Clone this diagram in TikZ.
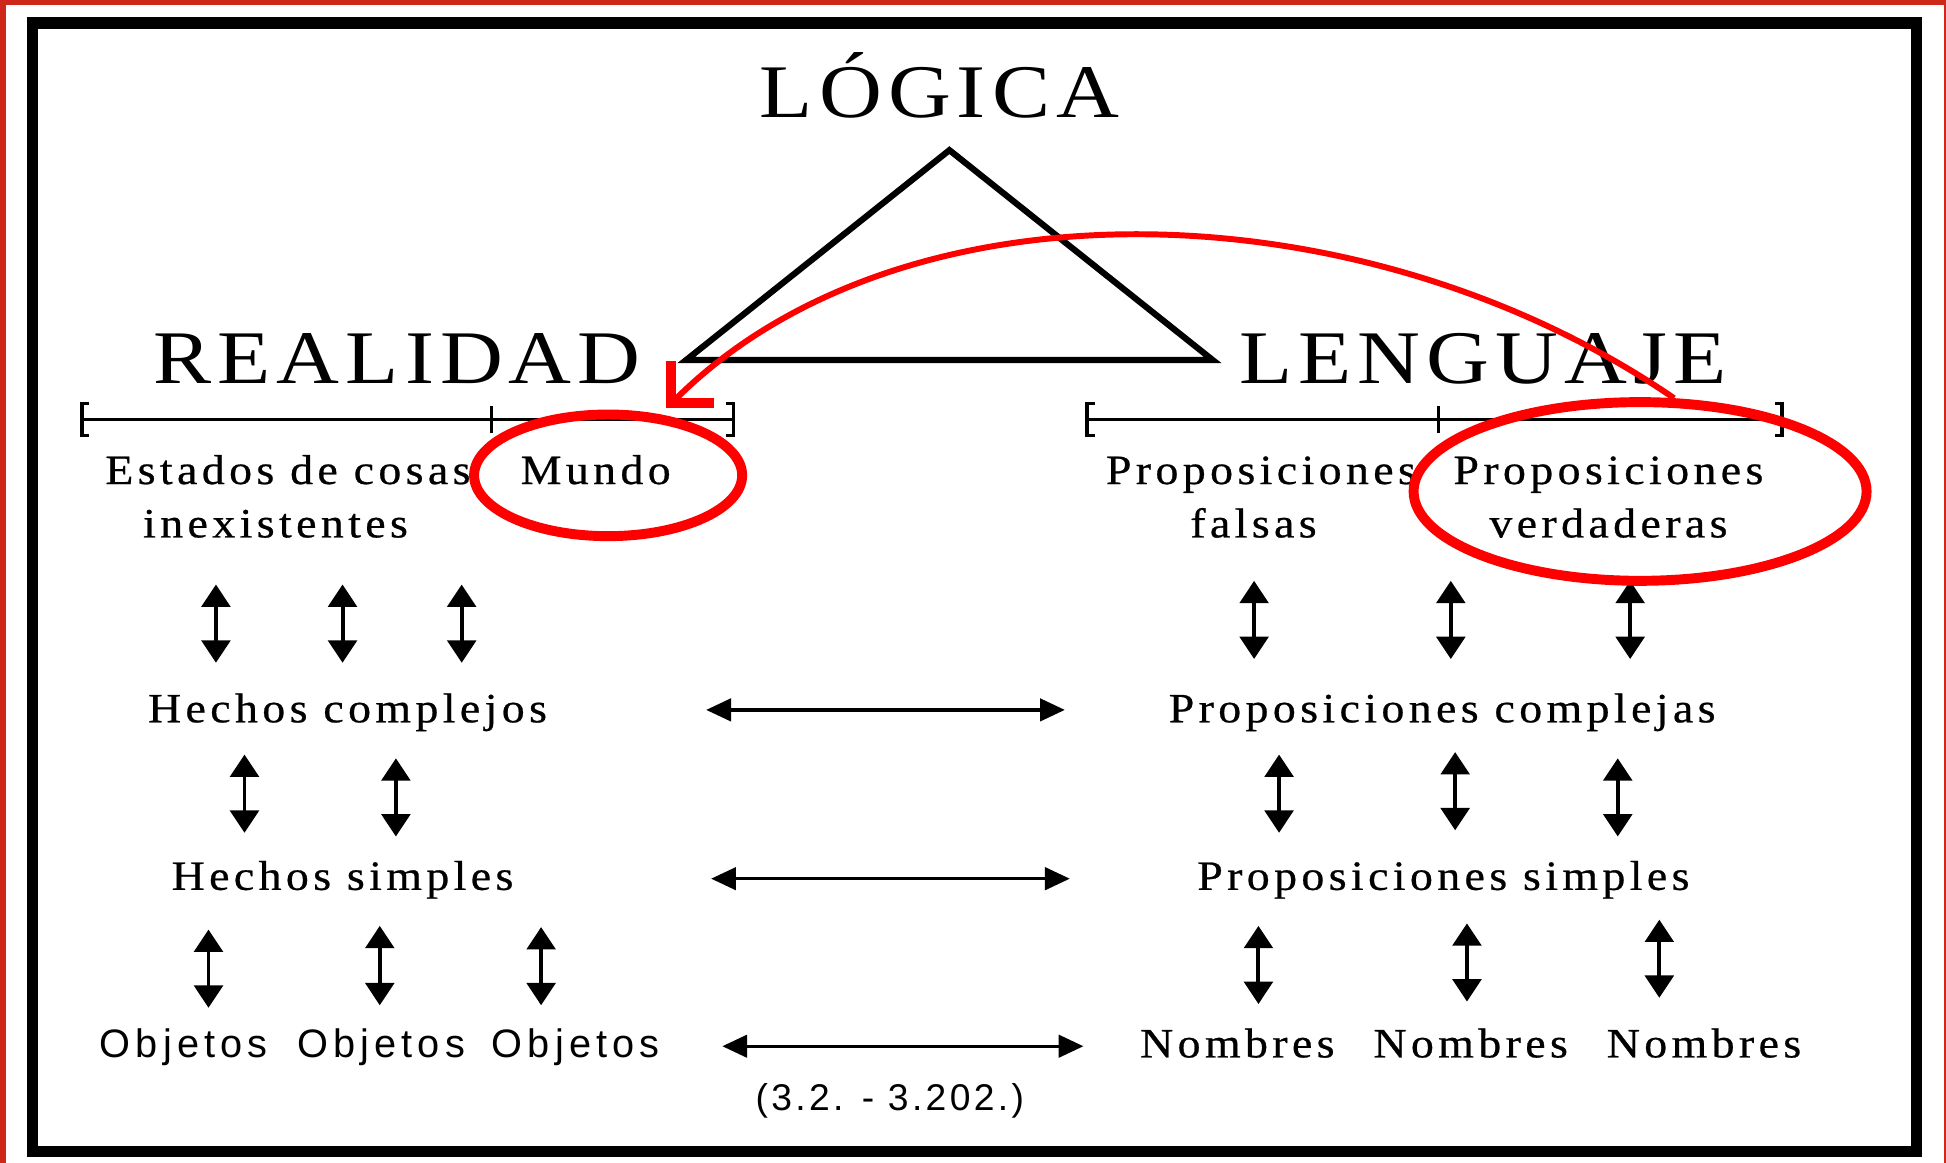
\documentclass[tikz,border=0pt]{standalone}
\usepackage{fontspec}
\setmainfont{Liberation Serif}
\setsansfont{Liberation Sans}
\usetikzlibrary{arrows.meta,shapes.geometric}
\definecolor{framered}{RGB}{205,40,25}
\definecolor{ovalred}{RGB}{255,0,0}
\begin{document}
\begin{tikzpicture}[x=0.5pt,y=-0.5pt,
  titletxt/.style={anchor=base,inner sep=0pt,font=\fontsize{30.5pt}{36pt}\selectfont\addfontfeatures{FakeStretch=1.15,LetterSpace=8}},
  lbltxt/.style={anchor=base,inner sep=0pt,font=\fontsize{16.8pt}{20pt}\selectfont\addfontfeatures{FakeStretch=1.1,LetterSpace=10.5,FakeBold=0.6}},
  objtxt/.style={anchor=base,inner sep=0pt,font=\sffamily\fontsize{16pt}{20pt}\selectfont\addfontfeatures{LetterSpace=13}},
  reftxt/.style={anchor=base,inner sep=0pt,font=\sffamily\fontsize{15pt}{20pt}\selectfont\addfontfeatures{LetterSpace=9}},
  vdarrow/.style={line width=1.6pt,{Triangle[length=9pt,width=11.5pt]}-{Triangle[length=9pt,width=11.5pt]}},
  hdarrow/.style={line width=1.4pt,{Triangle[length=10pt,width=9pt]}-{Triangle[length=10pt,width=9pt]}},
  brk/.style={line width=1.4pt},
  ovalnode/.style={draw=ovalred,line width=4pt,ellipse,inner sep=0pt},
  redarrow/.style={draw=ovalred,line width=2.4pt,-{Straight Barb[length=12pt,width=24pt,line width=4pt]}},
]
\useasboundingbox (0,0) rectangle (1568,937);
% outer red edge and black frame
\fill[framered] (0,0) rectangle (5,937);
\fill[framered] (0,0) rectangle (1568,4);
\fill[framered] (1566,0) rectangle (1568,937);
\draw[line width=4.5pt] (26,18.5) rectangle (1544.5,928);

% triangle
\coordinate (apex) at (765,121);
\coordinate (tbl) at (553,290);
\coordinate (tbr) at (977,290);
\draw[line width=2.5pt,line join=miter] (apex) -- (tbl) -- (tbr) -- cycle;

% titles
\node[titletxt] (logica) at (757,95) {LÓGICA};
\node[titletxt] (realidad) at (320,309) {REALIDAD};
\node[titletxt] (lenguaje) at (1195,309) {LENGUAJE};

% brackets
\coordinate (bl1) at (66,338);
\coordinate (bl2) at (396,338);
\coordinate (bl3) at (591,338);
\coordinate (br1) at (876,338);
\coordinate (br2) at (1159,338);
\coordinate (br3) at (1436,338);
\draw[brk] (bl1) -- (bl3);
\draw[brk] (bl1) ++(6,-13) -- ++(-6,0) -- ++(0,26) -- ++(6,0);
\draw[brk] (bl2) ++(0,-11) -- ++(0,22);
\draw[brk] (bl3) ++(-6,-13) -- ++(6,0) -- ++(0,26) -- ++(-6,0);
\draw[brk] (br1) -- (br3);
\draw[brk] (br1) ++(6,-13) -- ++(-6,0) -- ++(0,26) -- ++(6,0);
\draw[brk] (br2) ++(0,-11) -- ++(0,22);
\draw[brk] (br3) ++(-6,-13) -- ++(6,0) -- ++(0,26) -- ++(-6,0);

% labels
\node[lbltxt] (estados) at (232,390) {Estados de cosas};
\node[lbltxt] (inexist) at (222,433) {inexistentes};
\node[lbltxt] (mundo) at (480,390) {Mundo};
\node[lbltxt] (propf) at (1016,390) {Proposiciones};
\node[lbltxt] (falsas) at (1010,433) {falsas};
\node[lbltxt] (propv) at (1296,390) {Proposiciones};
\node[lbltxt] (verd) at (1296,433) {verdaderas};
\node[lbltxt] (hcomp) at (280,582) {Hechos complejos};
\node[lbltxt] (pcomp) at (1162,582) {Proposiciones complejas};
\node[lbltxt] (hsimp) at (276,717) {Hechos simples};
\node[lbltxt] (psimp) at (1163,717) {Proposiciones simples};
\node[objtxt] (obj1) at (148,852) {Objetos};
\node[objtxt] (obj2) at (307,852) {Objetos};
\node[objtxt] (obj3) at (464,852) {Objetos};
\node[lbltxt] (nom1) at (997,852) {Nombres};
\node[lbltxt] (nom2) at (1185,852) {Nombres};
\node[lbltxt] (nom3) at (1373,852) {Nombres};
\node[reftxt] (refs) at (717,895) {(3.2. - 3.202.)};

% vertical double arrows
\foreach \n/\x/\ya/\yb in {a1/174/471/534,a2/276/471/534,a3/372/471/534,
    b1/197/608/671,b2/319/611/674,
    c1/168/749/812,c2/306/746/810,c3/436/747/810,
    d1/1010.5/468/531,d2/1169/468/531,d3/1313.5/468/531,
    e1/1030.6/608/671,e2/1172.5/606/669,e3/1303.5/611/674,
    f1/1014/746/809,f2/1182/744/807,f3/1337/741/804}{
  \coordinate (\n-t) at (\x,\ya);
  \coordinate (\n-b) at (\x,\yb);
  \draw[vdarrow] (\n-t) -- (\n-b);
}

% horizontal double arrows
\coordinate (h1l) at (569,572);
\coordinate (h1r) at (858,572);
\coordinate (h2l) at (573,708);
\coordinate (h2r) at (862,708);
\coordinate (h3l) at (582,843);
\coordinate (h3r) at (873,843);
\draw[hdarrow] (h1l) -- (h1r);
\draw[hdarrow] (h2l) -- (h2r);
\draw[hdarrow] (h3l) -- (h3r);

% red ovals and curved arrow
\node[ovalnode,minimum width=108pt,minimum height=49pt] (moval) at (490,383) {};
\node[ovalnode,minimum width=182.5pt,minimum height=72pt] (voval) at (1321.5,396) {};
\coordinate (mtip) at (537,329);
\draw[redarrow] (voval.70) .. controls (1100,150) and (727,139) .. (mtip);
\end{tikzpicture}
\end{document}
